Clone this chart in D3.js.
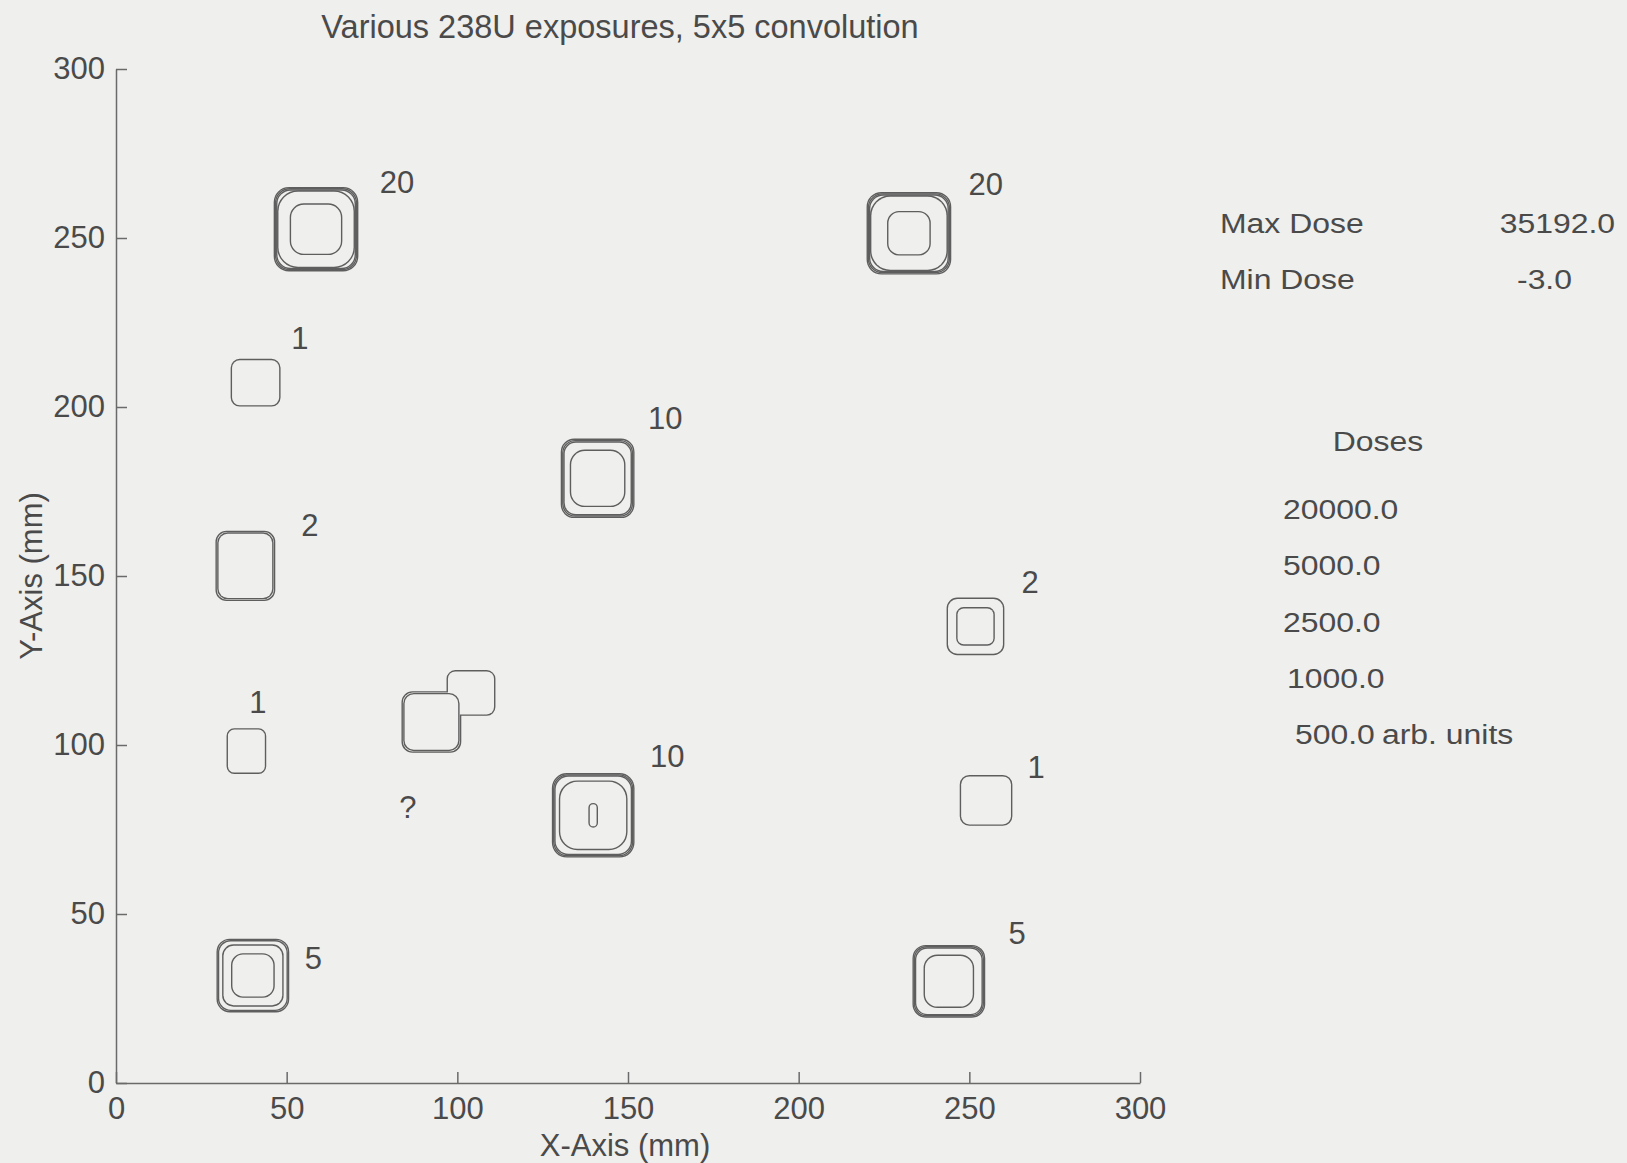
<!DOCTYPE html>
<html>
<head>
<meta charset="utf-8">
<script src="https://cdn.jsdelivr.net/npm/d3@7/dist/d3.min.js"></script>
<style>
  body { margin: 0; background: #efefed; }
  text { font-family: Arial, "Liberation Sans", sans-serif; fill: #4a4a4a; }
</style>
</head>
<body>
<div id="plot"></div>
<script>
// exposure spots, centres in mm
var spotX = [58.6, 232.3, 40.9, 141.1, 37.9, 251.8, 38.2, 92.4, 104.0, 139.8, 254.9, 40.1, 244.0];
var spotY = [252.6, 251.4, 207.2, 178.9, 153.0, 135.1, 98.2, 106.8, 115.4, 79.2, 83.6, 31.8, 30.1];

// contour rings of each spot: [width mm, height mm, dose level]
var spotRings = [
  [[24.0, 24.2, 500], [23.3, 23.5, 1000], [22.6, 22.8, 2500], [22.0, 22.2, 5000], [14.6, 14.5, 20000]],
  [[24.0, 23.6, 500], [23.3, 22.9, 1000], [22.6, 22.2, 2500], [22.0, 21.6, 5000], [12.0, 12.4, 20000]],
  [[13.8, 13.3, 500]],
  [[20.8, 22.7, 500], [20.0, 21.9, 1000], [19.3, 21.1, 2500], [15.5, 16.2, 5000]],
  [[16.7, 20.0, 500], [15.7, 19.0, 1000]],
  [[16.1, 16.2, 500], [10.5, 10.6, 1000]],
  [[10.8, 12.7, 500]],
  [[16.7, 17.4, 500], [15.7, 16.4, 1000]],
  [[13.5, 12.7, 500]],
  [[23.4, 24.2, 500], [22.7, 23.5, 1000], [22.0, 22.8, 2500], [19.3, 19.8, 5000], [2.0, 6.5, 20000]],
  [[14.6, 14.2, 500]],
  [[20.5, 21.0, 500], [19.7, 20.2, 1000], [17.2, 17.6, 2500], [12.0, 12.4, 5000]],
  [[20.5, 20.7, 500], [19.8, 20.0, 1000], [19.1, 19.3, 2500], [14.0, 15.0, 5000]]
];

// exposure labels
var labelText = ["20", "20", "1", "10", "2", "2", "1", "?", "10", "1", "5", "5"];
var labelX = [82.3, 254.8, 53.9, 160.9, 56.8, 267.8, 41.6, 85.5, 161.5, 269.6, 57.8, 264.0];
var labelY = [266.6, 266.0, 220.4, 196.7, 165.0, 148.3, 112.8, 81.7, 96.8, 93.4, 36.9, 44.4];

var doseLevels = [20000, 5000, 2500, 1000, 500];
var maxDose = 35192.0;
var minDose = -3.0;

var xTicks = [0, 50, 100, 150, 200, 250, 300];
var yTicks = [0, 50, 100, 150, 200, 250, 300];

var W = 1627, H = 1163;
var bg = "#efefed";
var lineCol = "#5e5e5e";

var svg = d3.select("#plot")
    .append("svg")
    .attr("width", W)
    .attr("height", H);

svg.append("rect").attr("width", W).attr("height", H).attr("fill", bg);

var x = d3.scaleLinear().domain([0, 300]).range([116, 1140]);
var y = d3.scaleLinear().domain([0, 300]).range([1083, 69]);

// axes, ticks pointing inward
var xAxis = svg.append("g")
    .attr("transform", "translate(0," + y(0) + ")")
    .call(d3.axisBottom(x).tickValues(xTicks).tickSizeInner(-11).tickSizeOuter(0).tickPadding(14));
var yAxis = svg.append("g")
    .attr("transform", "translate(" + x(0) + ",0)")
    .call(d3.axisLeft(y).tickValues(yTicks).tickSizeInner(-11).tickSizeOuter(0).tickPadding(11));

[xAxis, yAxis].forEach(function(a) {
  a.selectAll("path, line").attr("stroke", "#6a6a6a").attr("stroke-width", 1.5);
  a.selectAll("text")
      .style("font-size", "31px")
      .style("font-family", "Arial, 'Liberation Sans', sans-serif")
      .attr("fill", "#4a4a4a");
});

// contour rings, drawn level by level so touching rings merge
var rings = [];
spotRings.forEach(function(list, i) {
  list.forEach(function(r) {
    rings.push({cx: spotX[i], cy: spotY[i], w: r[0], h: r[1], level: r[2]});
  });
});

function ringAttrs(sel) {
  sel.attr("x", function(d) { return x(d.cx - d.w / 2); })
     .attr("y", function(d) { return y(d.cy + d.h / 2); })
     .attr("width", function(d) { return x(d.cx + d.w / 2) - x(d.cx - d.w / 2); })
     .attr("height", function(d) { return y(d.cy - d.h / 2) - y(d.cy + d.h / 2); })
     .attr("rx", function(d) {
        var pw = x(d.cx + d.w / 2) - x(d.cx - d.w / 2);
        var ph = y(d.cy - d.h / 2) - y(d.cy + d.h / 2);
        var m = Math.min(pw, ph);
        if (m < 15) return m / 2;
        return d.level >= 5000 ? m * 0.26 : m * 0.17;
     });
}

var contours = svg.append("g");
doseLevels.slice().reverse().forEach(function(lv) {
  var set = rings.filter(function(d) { return d.level == lv; });
  var g = contours.append("g");
  g.selectAll("rect.s").data(set).enter().append("rect")
      .attr("class", "s")
      .call(ringAttrs)
      .attr("fill", "none")
      .attr("stroke", lineCol)
      .attr("stroke-width", 2.8);
  g.selectAll("rect.f").data(set).enter().append("rect")
      .attr("class", "f")
      .call(ringAttrs)
      .attr("fill", bg)
      .attr("stroke", "none");
});

// labels
svg.append("g").selectAll("text")
    .data(labelText)
    .enter()
    .append("text")
    .attr("x", function(d, i) { return x(labelX[i]); })
    .attr("y", function(d, i) { return y(labelY[i]); })
    .attr("dy", "0.36em")
    .attr("text-anchor", "middle")
    .style("font-size", "31px")
    .text(function(d) { return d; });

// titles
svg.append("text")
    .attr("x", 620).attr("y", 38)
    .attr("text-anchor", "middle")
    .style("font-size", "32.5px")
    .text("Various 238U exposures, 5x5 convolution");

svg.append("text")
    .attr("x", 625).attr("y", 1156)
    .attr("text-anchor", "middle")
    .style("font-size", "31px")
    .text("X-Axis (mm)");

svg.append("text")
    .attr("transform", "translate(42,576) rotate(-90)")
    .attr("text-anchor", "middle")
    .style("font-size", "31px")
    .text("Y-Axis (mm)");

// side panel (scan is stretched sideways here)
function panelText(tx, ty, s, anchor) {
  svg.append("text")
      .attr("transform", "translate(" + tx + "," + ty + ") scale(1.14,1)")
      .attr("text-anchor", anchor || "start")
      .style("font-size", "28px")
      .text(s);
}

panelText(1220, 233, "Max Dose");
panelText(1615, 233, maxDose.toFixed(1), "end");
panelText(1220, 289, "Min Dose");
panelText(1517, 289, minDose.toFixed(1));
panelText(1378, 451, "Doses", "middle");

var doseY = [519, 575, 632, 688, 744];
var doseX = [1283, 1283, 1283, 1287, 1295];
doseLevels.forEach(function(lv, i) {
  panelText(doseX[i], doseY[i], lv.toFixed(1));
});
panelText(1382, 744, "arb. units");
</script>
</body>
</html>
